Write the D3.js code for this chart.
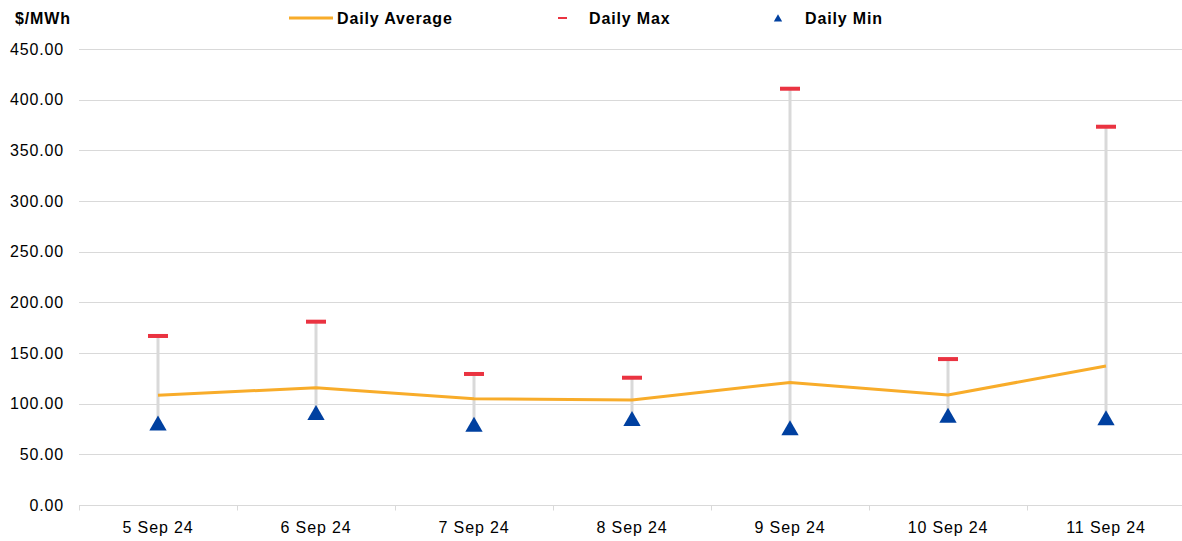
<!DOCTYPE html>
<html><head><meta charset="utf-8">
<script src="https://cdn.jsdelivr.net/npm/d3@7"></script>
<style>
body{margin:0;background:#fff;}
svg{display:block;font-family:"Liberation Sans",Arial,sans-serif;}
text{letter-spacing:0.85px;}
</style></head>
<body><svg id="c" width="1182" height="541"></svg>
<script>
const categories = ["5 Sep 24","6 Sep 24","7 Sep 24","8 Sep 24","9 Sep 24","10 Sep 24","11 Sep 24"];
const dailyAverage = [108.3, 115.8, 104.9, 103.6, 121.0, 108.6, 137.2];
const dailyMax = [166.8, 180.9, 129.3, 125.6, 410.8, 144.0, 373.3];
const dailyMin = [79.4, 89.8, 78.3, 83.9, 74.7, 87.1, 84.6];
const yTicks = [0,50,100,150,200,250,300,350,400,450];

const svg = d3.select("#c");
const x = d3.scaleBand().domain(categories).range([79,1185]);
const y = d3.scaleLinear().domain([0,450]).range([505,49]);
const grid = "#d9d9d9";

// gridlines
svg.append("g").selectAll("line").data(yTicks).join("line")
  .attr("x1",79).attr("x2",1182)
  .attr("y1",d=>Math.round(y(d))+0.5).attr("y2",d=>Math.round(y(d))+0.5)
  .attr("stroke",grid).attr("stroke-width",1);

// y labels
svg.append("g").selectAll("text").data(yTicks).join("text")
  .attr("x",64).attr("y",d=>y(d)).attr("dy","0.35em")
  .attr("text-anchor","end").attr("font-size",16).attr("fill","#000")
  .text(d=>d3.format(".2f")(d));

// x axis
const xa = svg.append("g").attr("transform","translate(0,505.5)");
const bounds = d3.range(categories.length+1).map(i=>79+i*x.bandwidth());
xa.selectAll("line.t").data(bounds).join("line").attr("class","t")
  .attr("x1",d=>Math.round(d)+0.5).attr("x2",d=>Math.round(d)+0.5)
  .attr("y1",0).attr("y2",5).attr("stroke",grid);
xa.selectAll("text").data(categories).join("text")
  .attr("x",d=>x(d)+x.bandwidth()/2).attr("y",27)
  .attr("text-anchor","middle").attr("font-size",16).attr("fill","#000")
  .text(d=>d);

const cx = i => x(categories[i]) + x.bandwidth()/2;

// high-low lines
svg.append("g").selectAll("line").data(categories).join("line")
  .attr("x1",(d,i)=>cx(i)).attr("x2",(d,i)=>cx(i))
  .attr("y1",(d,i)=>y(dailyMax[i])).attr("y2",(d,i)=>y(dailyMin[i]))
  .attr("stroke","#d9d9d9").attr("stroke-width",3);

// average line
svg.append("path").datum(dailyAverage)
  .attr("d",d3.line().x((d,i)=>cx(i)).y(d=>y(d)))
  .attr("fill","none").attr("stroke","#f8ac2a").attr("stroke-width",3);

// max markers
svg.append("g").selectAll("rect").data(dailyMax).join("rect")
  .attr("x",(d,i)=>cx(i)-10).attr("y",d=>y(d)-2).attr("width",20).attr("height",4)
  .attr("fill","#ea3341");

// min markers
const tri = d3.symbol().type(d3.symbolTriangle).size(130);
svg.append("g").selectAll("path").data(dailyMin).join("path")
  .attr("transform",(d,i)=>`translate(${cx(i)},${y(d)+1})`)
  .attr("d",tri).attr("fill","#0040a0");

// title
svg.append("text").attr("x",15).attr("y",24).attr("font-size",16).attr("font-weight","bold").text("$/MWh");

// legend
const lg = svg.append("g").attr("font-size",16).attr("font-weight","bold");
lg.append("line").attr("x1",289).attr("x2",333).attr("y1",18).attr("y2",18).attr("stroke","#f8ac2a").attr("stroke-width",3);
lg.append("text").attr("x",337).attr("y",24).text("Daily Average");
lg.append("rect").attr("x",558).attr("y",17).attr("width",9).attr("height",2).attr("fill","#ea3341");
lg.append("text").attr("x",589).attr("y",24).text("Daily Max");
lg.append("path").attr("transform","translate(778,19)").attr("d",d3.symbol().type(d3.symbolTriangle).size(30)).attr("fill","#0040a0");
lg.append("text").attr("x",805).attr("y",24).text("Daily Min");
</script></body></html>
